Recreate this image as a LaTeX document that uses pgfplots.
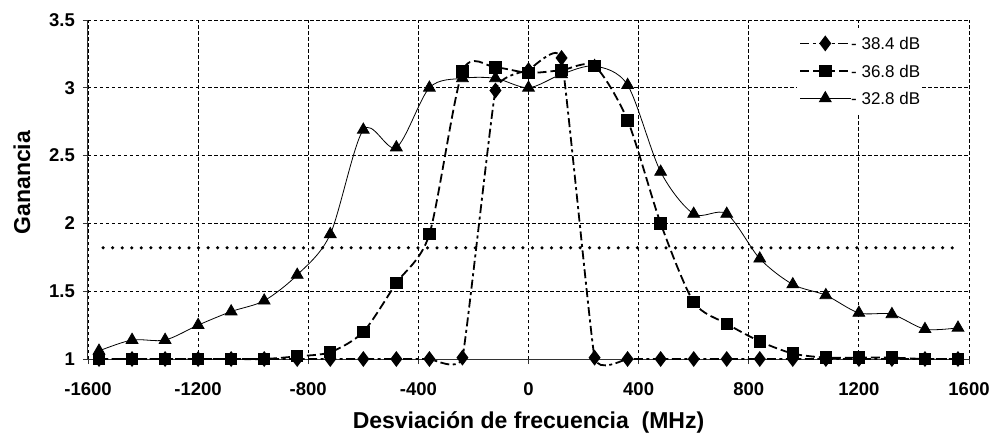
\documentclass[border=0pt]{standalone}
\usepackage{fontspec}
\setmainfont{Liberation Sans}
\usepackage{pgfplots}
\pgfplotsset{compat=1.18}

% Gain of the amplifier versus frequency detuning, three input levels
\pgfplotstableread{
x      y
-1560  1.00
-1440  1.00
-1320  1.00
-1200  1.00
-1080  1.00
-960   1.00
-840   1.00
-720   1.00
-600   1.00
-480   1.00
-360   1.00
-240   1.01
-120   2.98
0      3.13
120    3.22
240    1.01
360    1.00
480    1.00
600    1.00
720    1.00
840    1.00
960    1.00
1080   1.00
1200   1.00
1320   1.00
1440   1.00
1560   1.00
}\tablelow

\pgfplotstableread{
x      y
-1560  1.00
-1440  1.00
-1320  1.00
-1200  1.00
-1080  1.00
-960   1.00
-840   1.02
-720   1.05
-600   1.20
-480   1.56
-360   1.92
-240   3.12
-120   3.15
0      3.11
120    3.13
240    3.16
360    2.76
480    2.00
600    1.42
720    1.26
840    1.13
960    1.04
1080   1.01
1200   1.01
1320   1.01
1440   1.00
1560   1.00
}\tablemid

\pgfplotstableread{
x      y
-1560  1.06
-1440  1.14
-1320  1.14
-1200  1.25
-1080  1.35
-960   1.43
-840   1.62
-720   1.92
-600   2.69
-480   2.56
-360   3.00
-240   3.07
-120   3.07
0      3.00
120    3.10
240    3.16
360    3.02
480    2.38
600    2.07
720    2.07
840    1.74
960    1.55
1080   1.47
1200   1.34
1320   1.33
1440   1.22
1560   1.23
}\tablehigh

\newcommand{\legfont}{\fontsize{17bp}{19bp}\selectfont}

% long legend sample: line of 50bp with the mark in its middle
\pgfplotsset{longlegend/.style={legend image code/.code={%
  \draw[mark repeat=2, mark phase=2, ##1]
    plot coordinates {(0bp,0bp) (25bp,0bp) (50bp,0bp)};}}}

\begin{document}
\begin{tikzpicture}
\begin{axis}[
  at={(0,0)}, anchor=south west,
  scale only axis, width=881bp, height=339bp,
  xmin=-1600, xmax=1600, ymin=1, ymax=3.5,
  xtick={-1600,-1200,...,1600},
  ytick={1,1.5,2,2.5,3,3.5},
  scaled ticks=false,
  /pgf/number format/1000 sep={},
  /pgf/number format/assume math mode=true,
  axis x line=bottom, axis y line=left,
  axis line style={-, line width=1bp, black!80},
  tick align=outside, major tick length=5bp,
  tick style={black!80, line width=0.8bp},
  grid=major,
  major grid style={dash pattern=on 3.5bp off 2.5bp, line width=0.8bp, black},
  xticklabel style={font=\fontsize{18.5bp}{20bp}\selectfont\bfseries, anchor=north, inner sep=0pt, yshift=-18bp},
  yticklabel style={font=\fontsize{18.5bp}{20bp}\selectfont\bfseries, anchor=east, inner sep=0pt, xshift=-8bp},
  xlabel={Desviación de frecuencia\ \ (MHz)},
  ylabel={Ganancia},
  xlabel style={font=\fontsize{23bp}{25bp}\selectfont\bfseries, at={(axis description cs:0.5,-0.1858)}, anchor=center},
  ylabel style={font=\fontsize{23bp}{25bp}\selectfont\bfseries, at={(axis description cs:-0.0749,0.52)}, anchor=center},
  clip=false,
  legend style={at={(0.805,0.978)}, anchor=north west, draw=none, fill=white,
    font=\legfont, row sep=0bp, inner sep=2bp,
    nodes={inner sep=0bp, minimum height=27.5bp, text depth=0pt},
    cells={anchor=west},
    /tikz/every even column/.append style={column sep=9bp}},
]
% reference level
\addplot[black, line width=3.5bp, line cap=round, dash pattern=on 0bp off 9.54bp, forget plot]
  coordinates {(-1545,1.82) (1545,1.82)};

\addplot[black, line width=1.8bp, smooth, tension=0.2, longlegend,
  dash pattern=on 9bp off 3.5bp on 3bp off 3.5bp,
  mark=diamond*, mark size=6.5bp, mark options={solid}]
  table[x=x, y=y] {\tablelow};
\addlegendentry{\legfont - 38.4 dB}

\addplot[black, line width=1.8bp, smooth, tension=0.45, longlegend,
  dash pattern=on 9bp off 4bp,
  mark=square*, mark size=5.3bp, mark options={solid}]
  table[x=x, y=y] {\tablemid};
\addlegendentry{\legfont - 36.8 dB}

\addplot[black, line width=0.8bp, smooth, tension=0.5, longlegend,
  mark=triangle*, mark size=6.8bp, mark options={solid}]
  table[x=x, y=y] {\tablehigh};
\addlegendentry{\legfont - 32.8 dB}
\end{axis}
\pgfresetboundingbox
\path[use as bounding box] (-88bp,-77bp) rectangle (905bp,359bp);
\end{tikzpicture}
\end{document}
